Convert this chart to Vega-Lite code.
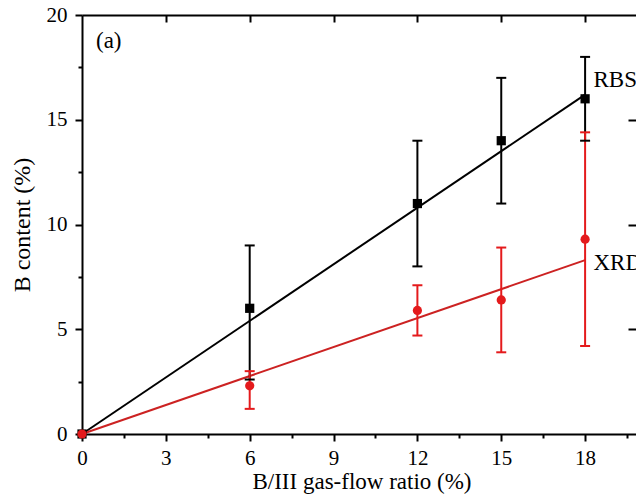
{
  "$schema": "https://vega.github.io/schema/vega-lite/v6.json",
  "width": 559,
  "height": 419,
  "autosize": "none",
  "padding": {"left": 82, "top": 15, "right": 0, "bottom": 61},
  "background": "white",
  "datasets": {
    "pts": [
      {"x": 0, "y": 0, "lo": null, "hi": null, "s": "RBS"},
      {"x": 6, "y": 6.0, "lo": 2.6, "hi": 9.0, "s": "RBS"},
      {"x": 12, "y": 11.0, "lo": 8.0, "hi": 14.0, "s": "RBS"},
      {"x": 15, "y": 14.0, "lo": 11.0, "hi": 17.0, "s": "RBS"},
      {"x": 18, "y": 16.0, "lo": 14.0, "hi": 18.0, "s": "RBS"},
      {"x": 0, "y": 0, "lo": null, "hi": null, "s": "XRD"},
      {"x": 6, "y": 2.3, "lo": 1.2, "hi": 3.0, "s": "XRD"},
      {"x": 12, "y": 5.9, "lo": 4.7, "hi": 7.1, "s": "XRD"},
      {"x": 15, "y": 6.4, "lo": 3.9, "hi": 8.9, "s": "XRD"},
      {"x": 18, "y": 9.3, "lo": 4.2, "hi": 14.4, "s": "XRD"}
    ],
    "fit": [
      {"x": 0, "y": 0, "s": "RBS"},
      {"x": 18, "y": 16.2, "s": "RBS"},
      {"x": 0, "y": 0, "s": "XRD"},
      {"x": 18, "y": 8.3, "s": "XRD"}
    ],
    "labels": [
      {"x": 18.3, "y": 16.56, "t": "RBS"},
      {"x": 18.3, "y": 7.83, "t": "XRD"},
      {"x": 0.5, "y": 18.42, "t": "(a)"}
    ]
  },
  "layer": [
    {
      "encoding": {
        "x": {
          "field": "x", "type": "quantitative",
          "scale": {"domain": [0, 20], "nice": false},
          "axis": {
            "orient": "bottom",
            "values": [0, 3, 6, 9, 12, 15, 18],
            "tickSize": 7,
            "labelPadding": 6,
            "labelFlush": false,
            "labelOverlap": false,
            "title": "B/III gas-flow ratio (%)",
            "titlePadding": 2
          }
        }
      },
      "layer": [
        {
          "data": {"name": "fit"},
          "mark": {"type": "line", "strokeWidth": 2},
          "encoding": {
            "y": {
              "field": "y", "type": "quantitative",
              "scale": {"domain": [0, 20], "nice": false},
              "axis": {"orient": "left", "values": [0, 5, 10, 15, 20], "tickSize": 7, "labelPadding": 8, "labelFlush": false, "labelOverlap": false, "title": "B content (%)", "titlePadding": 12, "titleFontSize": 24}
            },
            "stroke": {
              "field": "s", "type": "nominal",
              "scale": {"domain": ["RBS", "XRD"], "range": ["#000000", "#cc2222"]},
              "legend": null
            },
            "detail": {"field": "s"}
          }
        },
        {
          "data": {"name": "pts"},
          "mark": {"type": "rule", "strokeWidth": 2},
          "encoding": {
            "y": {
              "field": "lo", "type": "quantitative",
              "scale": {"domain": [0, 20], "nice": false},
              "axis": {"orient": "left", "values": [0, 5, 10, 15, 20], "tickSize": 7, "labelPadding": 8, "labelFlush": false, "labelOverlap": false, "title": "B content (%)", "titlePadding": 12, "titleFontSize": 24}
            },
            "y2": {"field": "hi"},
            "color": {
              "field": "s", "type": "nominal",
              "scale": {"domain": ["RBS", "XRD"], "range": ["#000000", "#e41a1c"]},
              "legend": null
            }
          }
        },
        {
          "data": {"name": "pts"},
          "mark": {"type": "tick", "orient": "horizontal", "size": 10, "thickness": 2, "opacity": 1},
          "encoding": {
            "y": {
              "field": "lo", "type": "quantitative",
              "scale": {"domain": [0, 20], "nice": false},
              "axis": {"orient": "left", "values": [0, 5, 10, 15, 20], "tickSize": 7, "labelPadding": 8, "labelFlush": false, "labelOverlap": false, "title": "B content (%)", "titlePadding": 12, "titleFontSize": 24}
            },
            "color": {"field": "s", "type": "nominal", "legend": null}
          }
        },
        {
          "data": {"name": "pts"},
          "mark": {"type": "tick", "orient": "horizontal", "size": 10, "thickness": 2, "opacity": 1},
          "encoding": {
            "y": {
              "field": "hi", "type": "quantitative",
              "scale": {"domain": [0, 20], "nice": false},
              "axis": {"orient": "left", "values": [0, 5, 10, 15, 20], "tickSize": 7, "labelPadding": 8, "labelFlush": false, "labelOverlap": false, "title": "B content (%)", "titlePadding": 12, "titleFontSize": 24}
            },
            "color": {"field": "s", "type": "nominal", "legend": null}
          }
        },
        {
          "data": {"name": "pts"},
          "mark": {"type": "point", "filled": true, "opacity": 1, "size": 85},
          "encoding": {
            "y": {
              "field": "y", "type": "quantitative",
              "scale": {"domain": [0, 20], "nice": false},
              "axis": {"orient": "left", "values": [0, 5, 10, 15, 20], "tickSize": 7, "labelPadding": 8, "labelFlush": false, "labelOverlap": false, "title": "B content (%)", "titlePadding": 12, "titleFontSize": 24}
            },
            "color": {"field": "s", "type": "nominal", "legend": null},
            "shape": {
              "field": "s", "type": "nominal",
              "scale": {"domain": ["RBS", "XRD"], "range": ["square", "circle"]},
              "legend": null
            }
          }
        },
        {
          "data": {"name": "labels"},
          "mark": {"type": "text", "align": "left", "baseline": "alphabetic", "font": "Liberation Serif", "fontSize": 23, "color": "#000000"},
          "encoding": {
            "y": {
              "field": "y", "type": "quantitative",
              "scale": {"domain": [0, 20], "nice": false},
              "axis": {"orient": "left", "values": [0, 5, 10, 15, 20], "tickSize": 7, "labelPadding": 8, "labelFlush": false, "labelOverlap": false, "title": "B content (%)", "titlePadding": 12, "titleFontSize": 24}
            },
            "text": {"field": "t"}
          }
        }
      ]
    },
    {
      "data": {"name": "pts"},
      "mark": {"type": "point", "opacity": 0},
      "encoding": {
        "x": {
          "field": "x", "type": "quantitative",
          "scale": {"domain": [0, 20], "nice": false},
          "axis": {"orient": "bottom", "values": [1.5, 4.5, 7.5, 10.5, 13.5, 16.5, 19.5], "tickSize": 4, "labels": false, "domain": false, "title": null}
        },
        "y": {
          "field": "y", "type": "quantitative",
          "scale": {"domain": [0, 20], "nice": false},
          "axis": {"orient": "left", "values": [2.5, 7.5, 12.5, 17.5], "tickSize": 4, "labels": false, "domain": false, "title": null}
        }
      }
    },
    {
      "data": {"name": "pts"},
      "mark": {"type": "point", "opacity": 0},
      "encoding": {
        "x": {
          "field": "x", "type": "quantitative",
          "scale": {"domain": [0, 20], "nice": false},
          "axis": {"orient": "top", "offset": -7, "values": [3, 6, 9, 12, 15, 18], "tickSize": 7, "labels": false, "domain": false, "title": null}
        },
        "y": {
          "field": "y", "type": "quantitative",
          "scale": {"domain": [0, 20], "nice": false},
          "axis": {"orient": "right", "offset": -13, "values": [5, 10, 15], "tickSize": 13, "labels": false, "domain": false, "title": null}
        }
      }
    },
    {
      "data": {"name": "pts"},
      "mark": {"type": "point", "opacity": 0},
      "encoding": {
        "x": {
          "field": "x", "type": "quantitative",
          "scale": {"domain": [0, 20], "nice": false},
          "axis": {"orient": "top", "ticks": false, "labels": false, "domain": true, "title": null}
        }
      }
    }
  ],
  "resolve": {"scale": {"x": "independent", "y": "independent"}},
  "config": {
    "view": {"stroke": null},
    "axis": {
      "grid": false,
      "domainColor": "#000000",
      "domainWidth": 2,
      "tickColor": "#000000",
      "tickWidth": 2,
      "labelColor": "#000000",
      "labelFont": "Liberation Serif",
      "labelFontSize": 21,
      "titleFont": "Liberation Serif",
      "titleFontSize": 23,
      "titleFontWeight": "normal",
      "titleColor": "#000000"
    }
  }
}
